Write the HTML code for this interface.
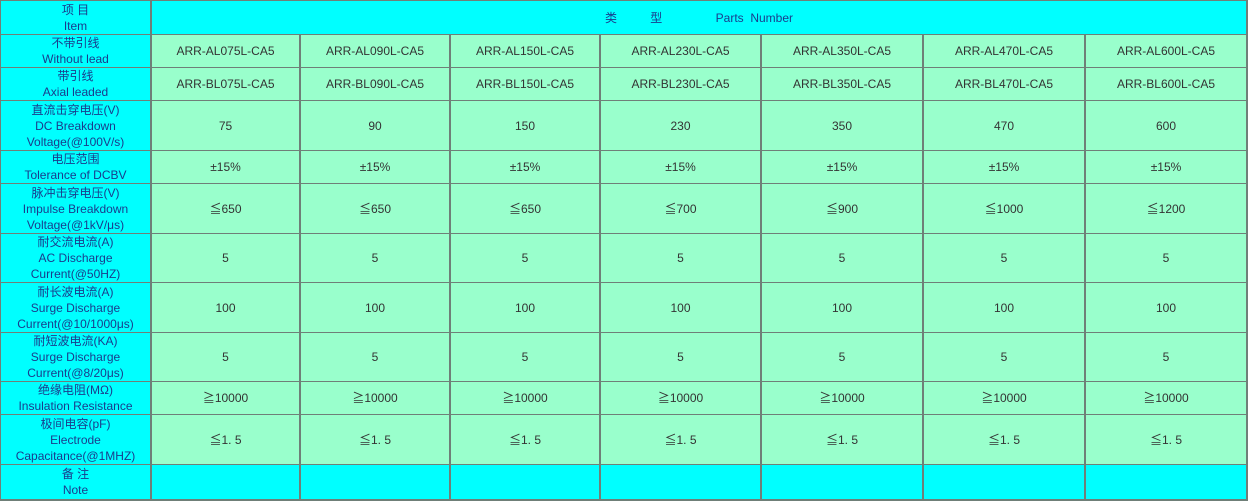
<!DOCTYPE html>
<html><head><meta charset="utf-8"><style>
body{margin:0;width:1248px;height:502px;background:#fff;position:relative;overflow:hidden;font-family:"Liberation Sans","Noto Sans CJK SC",sans-serif;font-size:12px}
#bg{position:absolute;left:0;top:0;width:1248px;height:501px;background:#6f7f78}
.c{position:absolute;display:flex;align-items:center;justify-content:center;text-align:center;line-height:16px;color:#333}
.h{background:#00ffff;color:#1a3c8c}
.v{background:#99ffcc}
</style></head><body><div id="bg"></div>
<script>
const xs=[1,151,300,450,600,761,923,1085,1247];
const ys=[1,35,68,101,151,184,234,283,333,382,415,465,500];
const heads=["项 目<br>Item","不带引线<br>Without lead","带引线<br>Axial leaded","直流击穿电压(V)<br>DC Breakdown<br>Voltage(@100V/s)","电压范围<br>Tolerance of DCBV","脉冲击穿电压(V)<br>Impulse Breakdown<br>Voltage(@1kV/μs)","耐交流电流(A)<br>AC Discharge<br>Current(@50HZ)","耐长波电流(A)<br>Surge Discharge<br>Current(@10/1000μs)","耐短波电流(KA)<br>Surge Discharge<br>Current(@8/20μs)","绝缘电阻(MΩ)<br>Insulation Resistance","极间电容(pF)<br>Electrode<br>Capacitance(@1MHZ)","备 注<br>Note"];
const codes=["075","090","150","230","350","470","600"];
const rows=[null,codes.map(c=>"ARR-AL"+c+"L-CA5"),codes.map(c=>"ARR-BL"+c+"L-CA5"),["75","90","150","230","350","470","600"],Array(7).fill("±15%"),["≦650","≦650","≦650","≦700","≦900","≦1000","≦1200"],Array(7).fill("5"),Array(7).fill("100"),Array(7).fill("5"),Array(7).fill("≧10000"),Array(7).fill("≦1. 5"),null];
let h="";
function cell(x0,x1,y0,y1,cls,t){h+=`<div class="c ${cls}" style="left:${x0+1}px;top:${y0+1}px;width:${x1-x0-2}px;height:${y1-y0-2}px">${t}</div>`}
for(let r=0;r<12;r++){
 cell(xs[0]-1,xs[1],ys[r]-1,ys[r+1],"h",heads[r]);
 if(r==0){cell(xs[1],xs[8],ys[0]-1,ys[1],"h",'类&nbsp;&nbsp;&nbsp;&nbsp;&nbsp;&nbsp;&nbsp;&nbsp;&nbsp;&nbsp;型&nbsp;&nbsp;&nbsp;&nbsp;&nbsp;&nbsp;&nbsp;&nbsp;&nbsp;&nbsp;&nbsp;&nbsp;&nbsp;&nbsp;&nbsp;&nbsp;Parts&nbsp;&nbsp;Number');continue}
 for(let c=0;c<7;c++)cell(xs[c+1],xs[c+2],ys[r]-1,ys[r+1],r==11?"h":"v",rows[r]?rows[r][c]:"");
}
document.write(h);
</script>
</body></html>
